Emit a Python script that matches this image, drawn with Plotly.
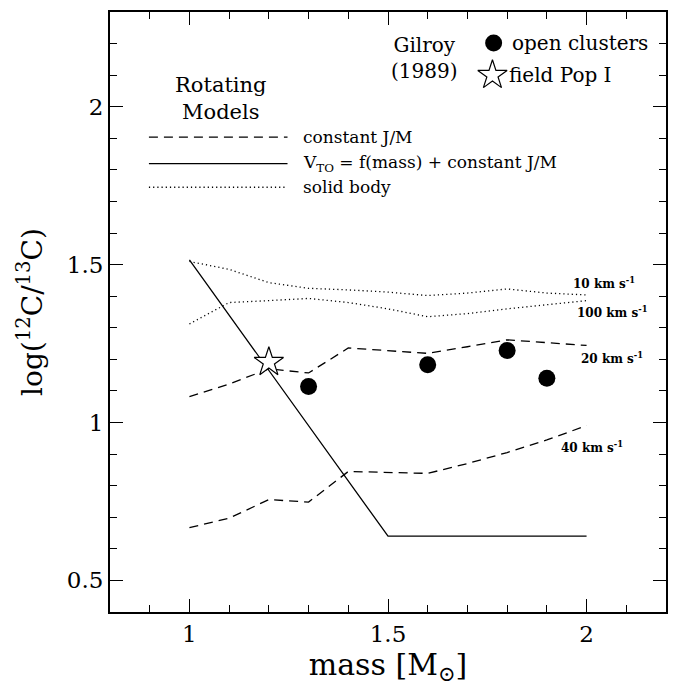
import plotly.graph_objects as go

# ---------------- data ----------------
mass_grid = [1.0, 1.1, 1.2, 1.3, 1.4, 1.5, 1.6, 1.7, 1.8, 1.9, 2.0]

sb_10 = [1.51, 1.485, 1.443, 1.425, 1.42, 1.413, 1.402, 1.41, 1.423, 1.41, 1.404]
sb_100 = [1.312, 1.38, 1.386, 1.393, 1.38, 1.36, 1.335, 1.345, 1.36, 1.372, 1.386]
jm_20 = [1.082, 1.122, 1.17, 1.157, 1.236, 1.228, 1.219, 1.24, 1.262, 1.253, 1.244]
jm_40 = [0.667, 0.697, 0.756, 0.748, 0.845, 0.843, 0.839, 0.87, 0.905, 0.945, 0.99]

vto_mass = [1.0, 1.5, 2.0]
vto_ratio = [1.515, 0.64, 0.64]

oc_mass = [1.3, 1.6, 1.8, 1.9]
oc_ratio = [1.114, 1.183, 1.228, 1.14]

field_mass = [1.2]
field_ratio = [1.191]

curve_labels = ["10 km s<sup>-1</sup>", "100 km s<sup>-1</sup>",
                "20 km s<sup>-1</sup>", "40 km s<sup>-1</sup>"]
label_x = [1.962, 1.972, 1.982, 1.93]
label_y = [1.441, 1.351, 1.205, 0.922]

legend_texts = ["constant J/M", "V<sub>TO</sub> = f(mass) + constant J/M", "solid body"]

SERIF = "DejaVu Serif"
DASH = "9px,6px"
DOT = "1.2px,3px"

fig = go.Figure()

def line(x, y, dash):
    fig.add_trace(go.Scatter(x=x, y=y, mode="lines",
                             line=dict(color="black", width=1.3, dash=dash),
                             showlegend=False, hoverinfo="skip"))

line(mass_grid, sb_10, DOT)
line(mass_grid, sb_100, DOT)
line(mass_grid, jm_20, DASH)
line(mass_grid, jm_40, DASH)
line(vto_mass, vto_ratio, "solid")

fig.add_trace(go.Scatter(x=oc_mass, y=oc_ratio, mode="markers",
                         marker=dict(symbol="circle", size=17, color="black"),
                         showlegend=False))
fig.add_trace(go.Scatter(x=field_mass, y=field_ratio, mode="markers",
                         marker=dict(symbol="star", size=22, color="white",
                                     line=dict(color="black", width=1.2)),
                         showlegend=False))

# legend key markers (top right)
fig.add_trace(go.Scatter(x=[1.766], y=[2.202], mode="markers",
                         marker=dict(symbol="circle", size=17, color="black"),
                         showlegend=False, hoverinfo="skip"))
fig.add_trace(go.Scatter(x=[1.763], y=[2.1], mode="markers",
                         marker=dict(symbol="star", size=22, color="white",
                                     line=dict(color="black", width=1.2)),
                         showlegend=False, hoverinfo="skip"))

annotations = []
for t, x, y in zip(curve_labels, label_x, label_y):
    annotations.append(dict(x=x, y=y, text=t, showarrow=False, xanchor="left",
                            yanchor="middle",
                            font=dict(family=SERIF, size=12, color="black", weight="bold")))

# Rotating models legend
annotations.append(dict(x=1.079, y=2.025, text="Rotating<br>Models", showarrow=False,
                        xanchor="center", yanchor="middle", align="center",
                        font=dict(family=SERIF, size=21, color="black")))
leg_y = [1.904, 1.82, 1.745]
leg_dash = [DASH, "solid", DOT]
shapes = []
for t, y, d in zip(legend_texts, leg_y, leg_dash):
    shapes.append(dict(type="line", xref="x", yref="y", x0=0.898, x1=1.247, y0=y, y1=y,
                       line=dict(color="black", width=1.3, dash=d)))
    annotations.append(dict(x=1.282, y=y, text=t, showarrow=False, xanchor="left",
                            yanchor="middle",
                            font=dict(family=SERIF, size=17, color="black")))

annotations.append(dict(x=1.593, y=2.153, text="Gilroy<br>(1989)", showarrow=False,
                        xanchor="center", yanchor="middle", align="center",
                        font=dict(family=SERIF, size=20, color="black")))
annotations.append(dict(x=1.808, y=2.202, text="open clusters", showarrow=False,
                        xanchor="left", yanchor="middle",
                        font=dict(family=SERIF, size=20, color="black")))
annotations.append(dict(x=1.800, y=2.1, text="field Pop I", showarrow=False,
                        xanchor="left", yanchor="middle",
                        font=dict(family=SERIF, size=20, color="black")))

axis_common = dict(showgrid=False, zeroline=False, showline=True, linecolor="black",
                   linewidth=2, mirror="allticks", ticks="inside", ticklen=13,
                   tickwidth=1.2, tickcolor="black",
                   tickfont=dict(family=SERIF, size=23, color="black"),
                   minor=dict(ticks="inside", ticklen=7, dtick=0.1, tickwidth=1.2,
                              tickcolor="black", showgrid=False))

fig.update_layout(
    width=675, height=694,
    margin=dict(l=110, r=7, t=12, b=82),
    plot_bgcolor="white", paper_bgcolor="white",
    showlegend=False,
    xaxis=dict(range=[0.8, 2.2], tickvals=[1, 1.5, 2], ticktext=["1", "1.5", "2"],
               title=dict(text="mass [M<sub>⊙</sub>]",
                          font=dict(family=SERIF, size=30, color="black"), standoff=0),
               **axis_common),
    yaxis=dict(range=[0.4, 2.3], tickvals=[0.5, 1, 1.5, 2], ticktext=["0.5", "1", "1.5", "2"],
               title=dict(text="log(<sup>12</sup>C/<sup>13</sup>C)",
                          font=dict(family=SERIF, size=28, color="black"), standoff=16),
               **axis_common),
    annotations=annotations,
    shapes=shapes,
)

fig.write_html("out.html")
